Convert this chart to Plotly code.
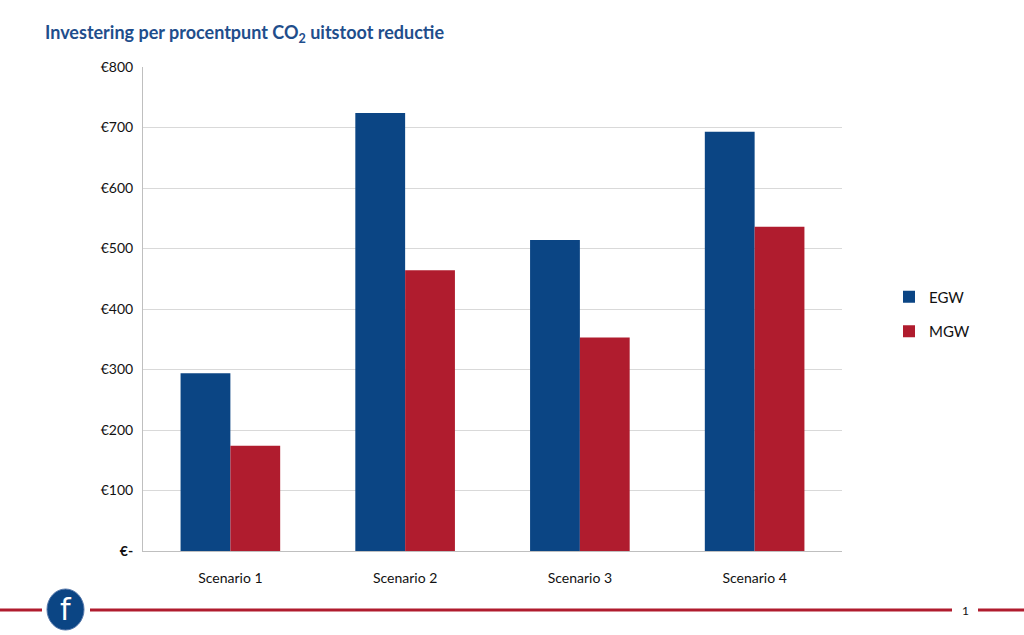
import plotly.graph_objects as go

categories = ["Scenario 1", "Scenario 2", "Scenario 3", "Scenario 4"]
egw = [294, 724, 514, 693]
mgw = [174, 464, 353, 536]
tick_vals = [0, 100, 200, 300, 400, 500, 600, 700, 800]
tick_text = ["<b>€-</b>", "€100", "€200", "€300", "€400", "€500", "€600", "€700", "€800"]

BLUE = "#0b4584"
RED = "#b01c2e"
FONT = "Lato, Open Sans, sans-serif"

fig = go.Figure()
fig.add_trace(go.Bar(name="EGW", x=categories, y=egw, marker_color=BLUE,
                     marker_line_width=0, legendgroup="a"))
fig.add_trace(go.Bar(name="MGW", x=categories, y=mgw, marker_color=RED,
                     marker_line_width=0, legendgroup="b"))

L, R, T, B = 143, 182, 67, 84
W, H = 1024, 635
pw, ph = W - L - R, H - T - B

def px(x):
    return (x - L) / pw

def py(y):
    return (H - B - y) / ph

shapes = []
fy = py(610)
red_line = dict(color=RED, width=3)
for x0, x1 in [(0, 42), (90, 952), (978, 1024)]:
    shapes.append(dict(type="line", xref="paper", yref="paper",
                       x0=px(x0), x1=px(x1), y0=fy, y1=fy, line=red_line))
shapes.append(dict(type="circle", xref="paper", yref="paper",
                   x0=px(47), x1=px(84), y0=py(589), y1=py(630),
                   fillcolor=BLUE, line=dict(color="#5577aa", width=1)))

fig.update_layout(
    width=W, height=H,
    margin=dict(l=L, r=R, t=T, b=B),
    paper_bgcolor="white", plot_bgcolor="white",
    barmode="group", bargap=0.43, bargroupgap=0,
    font=dict(family=FONT, size=13, color="#111111"),
    title=dict(text="<b>Investering per procentpunt CO<sub>2</sub> uitstoot reductie</b>",
               x=45 / W, xanchor="left", y=1 - 33 / H, yanchor="middle",
               font=dict(family=FONT, size=18, color="#1f4e8c")),
    xaxis=dict(showgrid=False, showline=True, linecolor="#bfbfbf", linewidth=1,
               ticks="", ticklabelstandoff=14,
               tickfont=dict(size=14, color="#111111"), fixedrange=True),
    yaxis=dict(range=[0, 800], tickvals=tick_vals, ticktext=tick_text,
               showgrid=True, gridcolor="#d9d9d9", gridwidth=1,
               showline=True, linecolor="#bfbfbf", linewidth=1,
               ticks="", ticklabelstandoff=6, zeroline=False,
               tickfont=dict(size=14, color="#111111")),
    legend=dict(x=px(889), xanchor="left", y=py(314), yanchor="middle",
                tracegroupgap=12, font=dict(size=15, color="#111111"),
                bgcolor="rgba(0,0,0,0)"),
    shapes=shapes,
    annotations=[
        dict(text="f", xref="paper", yref="paper", x=px(65.5), y=py(609),
             xanchor="center", yanchor="middle", showarrow=False,
             font=dict(family="DejaVu Sans, sans-serif", size=30, color="white")),
        dict(text="1", xref="paper", yref="paper", x=px(965), y=py(610),
             xanchor="center", yanchor="middle", showarrow=False,
             font=dict(size=12, color="#111111")),
    ],
    showlegend=True,
)

fig.write_html("out.html")
